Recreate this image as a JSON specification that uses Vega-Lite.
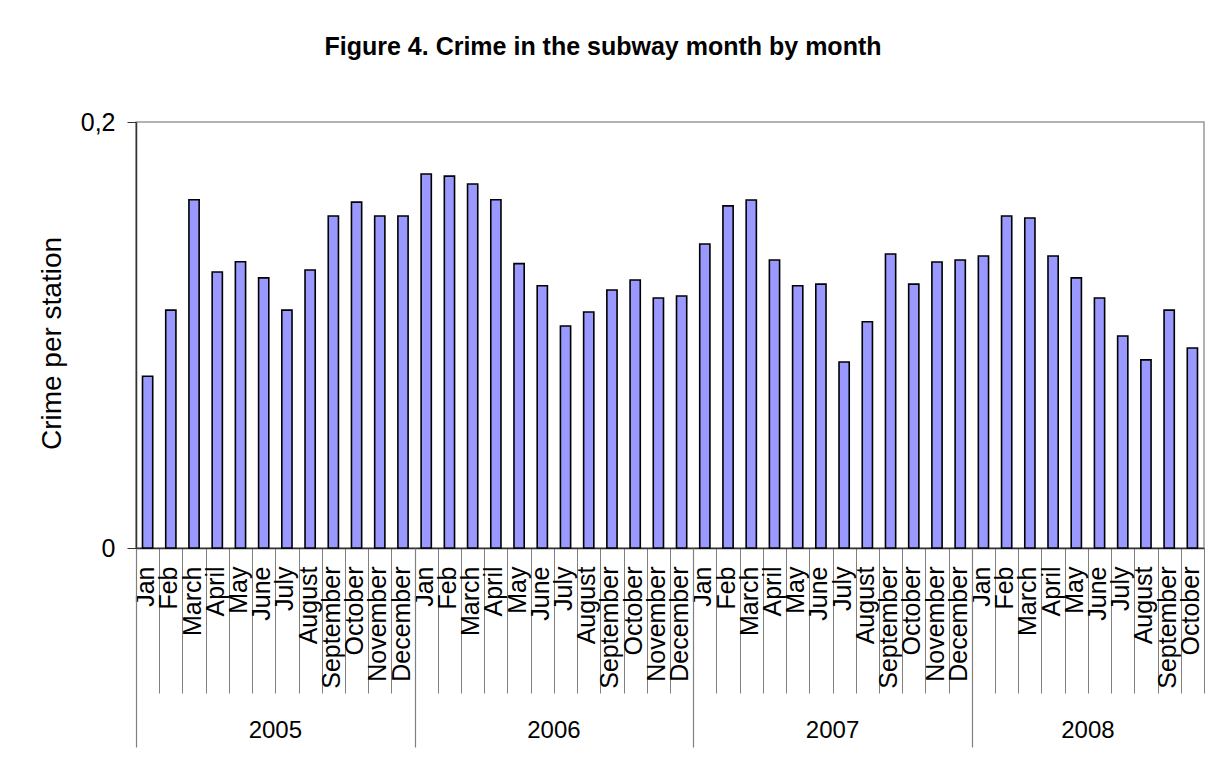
{
  "$schema": "https://vega.github.io/schema/vega-lite/v6.json",
  "width": 1068,
  "height": 426,
  "autosize": {"type": "none"},
  "padding": {"left": 136, "top": 122, "right": 3, "bottom": 223},
  "background": "white",
  "title": {
    "text": "Figure 4. Crime in the subway month by month",
    "font": "Liberation Sans",
    "fontSize": 25,
    "fontWeight": "bold",
    "color": "black",
    "anchor": "middle",
    "frame": "group",
    "dx": -67,
    "baseline": "alphabetic",
    "offset": 30
  },
  "config": {
    "font": "Liberation Sans",
    "view": {"stroke": "#999999", "strokeWidth": 1.5},
    "axis": {"grid": false, "labelColor": "black", "titleColor": "black", "labelFont": "Liberation Sans", "titleFont": "Liberation Sans"}
  },
  "data": {
    "values": [
      {"year": "2005", "month": "Jan", "period": "2005-Jan", "crime": 0.0806},
      {"year": "2005", "month": "Feb", "period": "2005-Feb", "crime": 0.1117},
      {"year": "2005", "month": "March", "period": "2005-March", "crime": 0.1635},
      {"year": "2005", "month": "April", "period": "2005-April", "crime": 0.1296},
      {"year": "2005", "month": "May", "period": "2005-May", "crime": 0.1344},
      {"year": "2005", "month": "June", "period": "2005-June", "crime": 0.1268},
      {"year": "2005", "month": "July", "period": "2005-July", "crime": 0.1117},
      {"year": "2005", "month": "August", "period": "2005-August", "crime": 0.1305},
      {"year": "2005", "month": "September", "period": "2005-September", "crime": 0.1559},
      {"year": "2005", "month": "October", "period": "2005-October", "crime": 0.1624},
      {"year": "2005", "month": "November", "period": "2005-November", "crime": 0.1559},
      {"year": "2005", "month": "December", "period": "2005-December", "crime": 0.1559},
      {"year": "2006", "month": "Jan", "period": "2006-Jan", "crime": 0.1756},
      {"year": "2006", "month": "Feb", "period": "2006-Feb", "crime": 0.1746},
      {"year": "2006", "month": "March", "period": "2006-March", "crime": 0.1709},
      {"year": "2006", "month": "April", "period": "2006-April", "crime": 0.1635},
      {"year": "2006", "month": "May", "period": "2006-May", "crime": 0.1335},
      {"year": "2006", "month": "June", "period": "2006-June", "crime": 0.1231},
      {"year": "2006", "month": "July", "period": "2006-July", "crime": 0.1042},
      {"year": "2006", "month": "August", "period": "2006-August", "crime": 0.1108},
      {"year": "2006", "month": "September", "period": "2006-September", "crime": 0.1211},
      {"year": "2006", "month": "October", "period": "2006-October", "crime": 0.1258},
      {"year": "2006", "month": "November", "period": "2006-November", "crime": 0.1174},
      {"year": "2006", "month": "December", "period": "2006-December", "crime": 0.1183},
      {"year": "2007", "month": "Jan", "period": "2007-Jan", "crime": 0.1427},
      {"year": "2007", "month": "Feb", "period": "2007-Feb", "crime": 0.1606},
      {"year": "2007", "month": "March", "period": "2007-March", "crime": 0.1634},
      {"year": "2007", "month": "April", "period": "2007-April", "crime": 0.1352},
      {"year": "2007", "month": "May", "period": "2007-May", "crime": 0.1231},
      {"year": "2007", "month": "June", "period": "2007-June", "crime": 0.1239},
      {"year": "2007", "month": "July", "period": "2007-July", "crime": 0.0873},
      {"year": "2007", "month": "August", "period": "2007-August", "crime": 0.1062},
      {"year": "2007", "month": "September", "period": "2007-September", "crime": 0.1380},
      {"year": "2007", "month": "October", "period": "2007-October", "crime": 0.1239},
      {"year": "2007", "month": "November", "period": "2007-November", "crime": 0.1343},
      {"year": "2007", "month": "December", "period": "2007-December", "crime": 0.1352},
      {"year": "2008", "month": "Jan", "period": "2008-Jan", "crime": 0.1371},
      {"year": "2008", "month": "Feb", "period": "2008-Feb", "crime": 0.1559},
      {"year": "2008", "month": "March", "period": "2008-March", "crime": 0.1549},
      {"year": "2008", "month": "April", "period": "2008-April", "crime": 0.1371},
      {"year": "2008", "month": "May", "period": "2008-May", "crime": 0.1268},
      {"year": "2008", "month": "June", "period": "2008-June", "crime": 0.1174},
      {"year": "2008", "month": "July", "period": "2008-July", "crime": 0.0995},
      {"year": "2008", "month": "August", "period": "2008-August", "crime": 0.0883},
      {"year": "2008", "month": "September", "period": "2008-September", "crime": 0.1117},
      {"year": "2008", "month": "October", "period": "2008-October", "crime": 0.0939}
    ]
  },
  "layer": [
    {
      "mark": {"type": "bar", "fill": "#9999FF", "stroke": "black", "strokeWidth": 1.6, "width": {"band": 0.44}},
      "encoding": {
        "x": {
          "field": "period",
          "type": "nominal",
          "sort": null,
          "scale": {"paddingInner": 0, "paddingOuter": 0},
          "axis": {
            "orient": "bottom",
            "title": null,
            "labelExpr": "split(datum.value, '-')[1]",
            "labelAngle": -90,
            "labelAlign": "right",
            "labelBaseline": "middle",
            "labelFontSize": 25,
            "labelPadding": -127,
            "labelOffset": -2,
            "labelOverlap": false,
            "labelBound": false,
            "tickBand": "extent",
            "tickSize": 145,
            "tickColor": "#808080",
            "tickWidth": 1,
            "domainColor": "#333333",
            "domainWidth": 1.5
          }
        },
        "y": {
          "field": "crime",
          "type": "quantitative",
          "scale": {"domain": [0, 0.2], "nice": false},
          "axis": {
            "values": [0, 0.2],
            "labelExpr": "replace(format(datum.value, '~g'), '.', ',')",
            "labelFontSize": 25,
            "labelPadding": 12,
            "tickSize": 9,
            "tickColor": "#333333",
            "domainColor": "#333333",
            "domainWidth": 1.5,
            "title": "Crime per station",
            "titleFontSize": 28,
            "titleFontWeight": "normal",
            "titleAngle": -90,
            "titleX": -76,
            "titleY": 221,
            "titleAlign": "center",
            "titleBaseline": "alphabetic"
          }
        }
      }
    },
    {
      "mark": {"type": "point", "opacity": 0},
      "encoding": {
        "x": {
          "field": "period",
          "type": "nominal",
          "sort": null,
          "axis": {
            "orient": "bottom",
            "title": null,
            "values": ["2005-Jan", "2006-Jan", "2007-Jan", "2008-Jan"],
            "labels": false,
            "domain": false,
            "tickBand": "center",
            "tickOffset": -11.6,
            "tickSize": 199,
            "tickColor": "#808080",
            "tickWidth": 1.2
          }
        }
      }
    },
    {
      "mark": {"type": "point", "opacity": 0},
      "encoding": {
        "x": {
          "field": "period",
          "type": "nominal",
          "sort": null,
          "axis": {
            "orient": "bottom",
            "title": null,
            "values": ["2005-July", "2006-July", "2007-July", "2008-June"],
            "labelExpr": "slice(datum.value, 0, 4)",
            "labelAngle": 0,
            "labelAlign": "center",
            "labelBaseline": "alphabetic",
            "labelFontSize": 24,
            "labelPadding": 189,
            "labelOffset": -11.6,
            "labelOverlap": false,
            "ticks": false,
            "domain": false
          }
        }
      }
    }
  ],
  "resolve": {"axis": {"x": "independent"}}
}
